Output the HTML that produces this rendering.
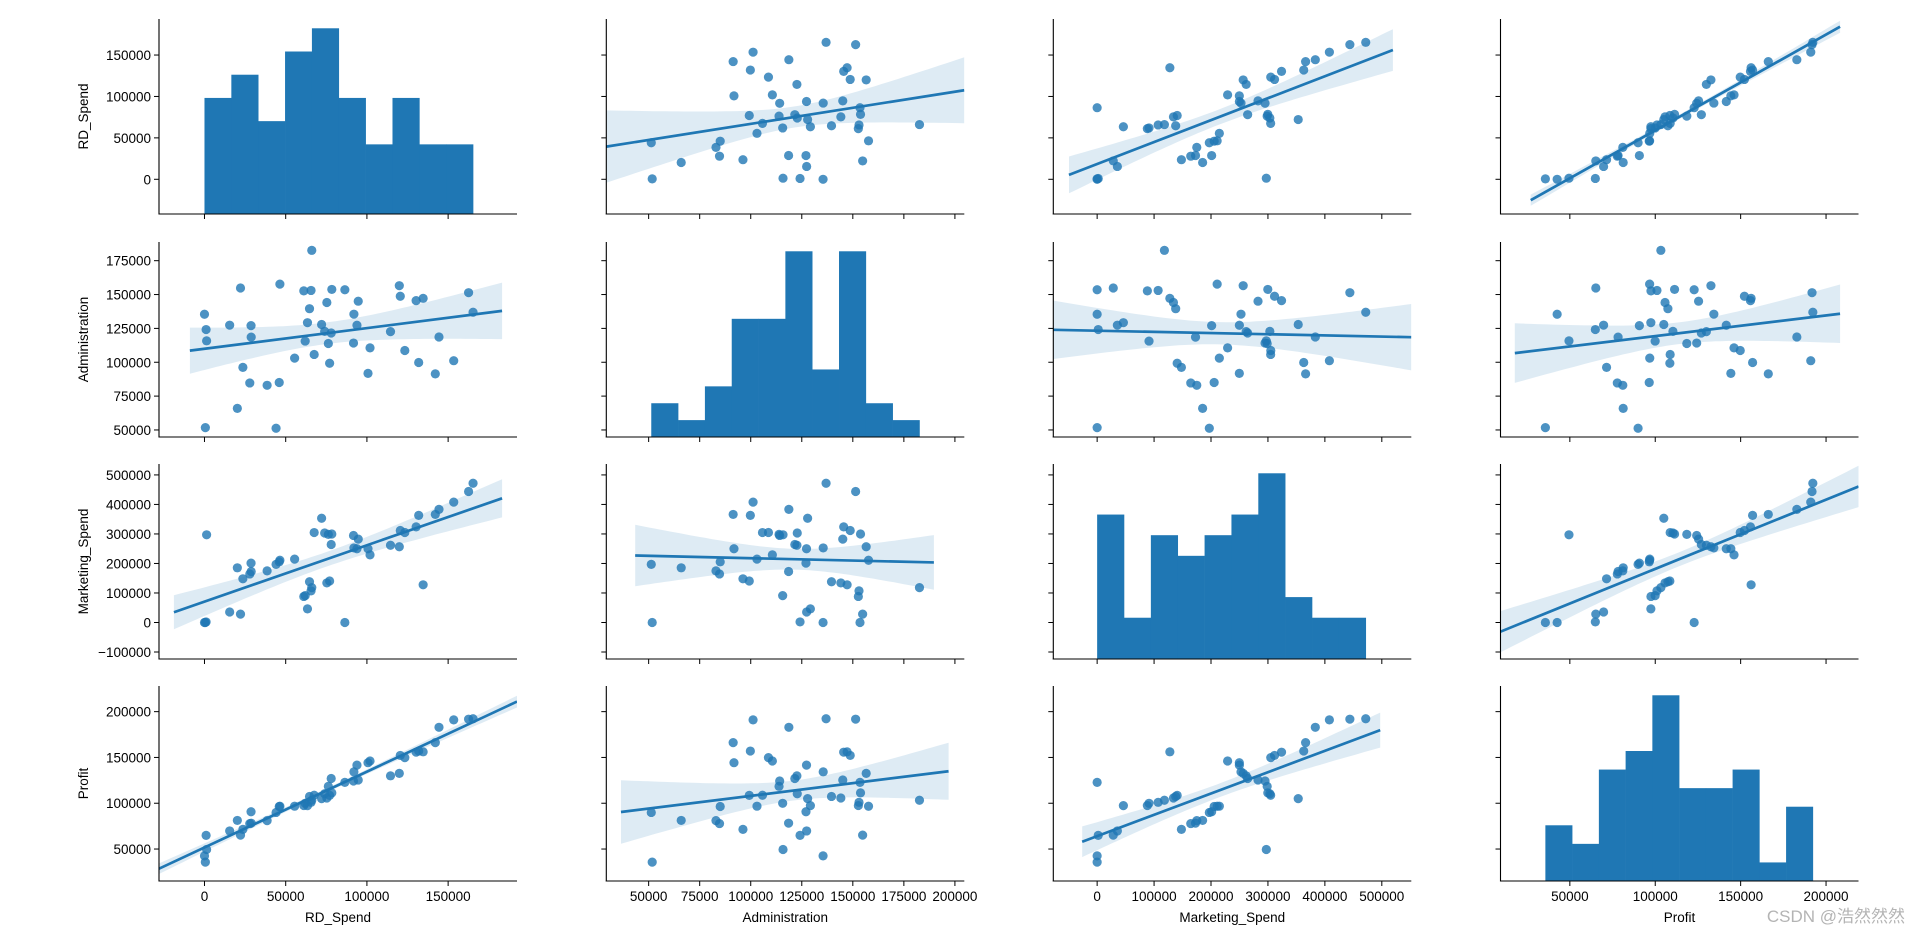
<!DOCTYPE html>
<html><head><meta charset="utf-8"><style>
html,body{margin:0;padding:0;background:#fff;}
svg{display:block;font-family:"Liberation Sans","DejaVu Sans",sans-serif;}
</style></head><body>
<svg id="chart" width="1920" height="936" viewBox="0 0 1920 936" xmlns="http://www.w3.org/2000/svg">
<text x="1905" y="922" text-anchor="end" font-size="17" fill="#b4b4b4" font-family="Liberation Sans, Noto Sans CJK SC, sans-serif">CSDN @浩然然然</text>
</svg>
<script>
const varNames = ["RD_Spend","Administration","Marketing_Spend","Profit"];
const rd = [165349.2,162597.7,153441.51,144372.41,142107.34,131876.9,134615.46,130298.13,120542.52,123334.88,101913.08,100671.96,93863.75,91992.39,119943.24,114523.61,78013.11,94657.16,91749.16,86419.7,76253.86,78389.47,73994.56,67532.53,77044.01,64664.71,75328.87,72107.6,66051.52,65605.48,61994.48,61136.38,63408.86,55493.95,46426.07,46014.02,28663.76,44069.95,20229.59,38558.51,28754.33,27892.92,23640.93,15505.73,22177.74,1000.23,1315.46,0,542.05];
const admin = [136897.8,151377.59,101145.55,118671.85,91391.77,99814.71,147198.87,145530.06,148718.95,108679.17,110594.11,91790.61,127320.38,135495.07,156547.42,122616.84,121597.55,145077.58,114175.79,153514.11,113867.3,153773.43,122782.75,105751.03,99281.34,139553.16,144135.98,127864.55,182645.56,153032.06,115641.28,152701.92,129219.61,103057.49,157693.92,85047.44,127056.21,51283.14,65947.93,82982.09,118546.05,84710.77,96189.63,127382.3,154806.14,124153.04,115816.21,135426.92,51743.15];
const mkt = [471784.1,443898.53,407934.54,383199.62,366168.42,362861.36,127716.82,323876.68,311613.29,304981.62,229160.95,249744.55,249839.44,252664.93,256512.92,261776.23,264346.06,282574.31,294919.57,0,298664.47,299737.29,303319.26,304768.73,140574.81,137962.62,134050.07,353183.81,118148.2,107138.38,91131.24,88218.23,46085.25,214634.81,210797.67,205517.64,201126.82,197029.42,185265.1,174999.3,172795.67,164470.71,148001.11,35534.17,28334.72,1903.93,297114.46,0,0];
const profit = [192261.83,191792.06,191050.39,182901.99,166187.94,156991.12,156122.51,155752.6,152211.77,149759.96,146121.95,144259.4,141585.52,134307.35,132602.65,129917.04,126992.93,125370.37,124266.9,122776.86,118474.03,111313.02,110352.25,108733.99,108552.04,107404.34,105733.54,105008.31,103282.38,101004.64,99937.59,97483.56,97427.84,96778.92,96712.8,96479.51,90708.19,89949.14,81229.06,81005.76,78239.91,77798.83,71498.49,69758.98,65200.33,64926.08,49490.75,42559.73,35673.41];
const xTicks0 = [0,50000,100000,150000];
const xTicks1 = [50000,75000,100000,125000,150000,175000,200000];
const xTicks2 = [0,100000,200000,300000,400000,500000];
const xTicks3 = [50000,100000,150000,200000];
const yTicks0 = [0,50000,100000,150000];
const yTicks1 = [50000,75000,100000,125000,150000,175000];
const yTicks2 = [-100000,0,100000,200000,300000,400000,500000];
const yTicks3 = [50000,100000,150000,200000];
const xTickSets=[xTicks0,xTicks1,xTicks2,xTicks3], yTickSets=[yTicks0,yTicks1,yTicks2,yTicks3];
const xlims=[[-28000,192400],[29260,204600],[-77000,551800],[9400,219000]];
const ylims=[[-41900,193500],[44800,188800],[-123700,537000],[15100,228000]];
const lineExt={"0,1":[29260,204600],"0,2":[-49500,519500],"0,3":[27100,208200],
"1,0":[-9000,183200],"1,2":[-77000,551800],"1,3":[17800,208200],
"2,0":[-18800,183200],"2,1":[43400,189700],"2,3":[9400,219000],
"3,0":[-28000,192400],"3,1":[36450,196900],"3,2":[-26300,497200]};
const cols=[rd,admin,mkt,profit];
const L=[159,606.3,1053.3,1500.5],W=358,T=[19,242,464,686],H=195;
const NS="http://www.w3.org/2000/svg";
const svg=document.getElementById('chart');
const C="#1f77b4";
function el(tag,attrs,parent){const e=document.createElementNS(NS,tag);for(const k in attrs)e.setAttribute(k,attrs[k]);(parent||svg).appendChild(e);return e;}
const sx=(c,v)=>L[c]+(v-xlims[c][0])/(xlims[c][1]-xlims[c][0])*W;
const sy=(r,v)=>T[r]+H-(v-ylims[r][0])/(ylims[r][1]-ylims[r][0])*H;
for(let r=0;r<4;r++)for(let c=0;c<4;c++){
  const g=el('g',{});
  
  
  const clipId='clip'+r+c;
  const cp=el('clipPath',{id:clipId},g);el('rect',{x:L[c],y:T[r],width:W,height:H},cp);
  const inner=el('g',{'clip-path':'url(#'+clipId+')'},g);
  const xs=cols[c], ys=cols[r];
  if(r===c){
    const mn=Math.min(...xs),mx=Math.max(...xs),bw=(mx-mn)/10;
    const counts=new Array(10).fill(0);
    xs.forEach(v=>{let i=Math.floor((v-mn)/bw);if(i>9)i=9;counts[i]++;});
    const cmax=Math.max(...counts)*1.05;
    counts.forEach((n,i)=>{
      const x0=sx(c,mn+i*bw),x1=sx(c,mn+(i+1)*bw),h=n/cmax*H;
      const b=el('rect',{x:x0,y:T[r]+H-h,width:x1-x0+0.3,height:h,fill:C},inner);
      
      
    });
  } else {
    const n=xs.length,xm=xs.reduce((a,b)=>a+b)/n,ym=ys.reduce((a,b)=>a+b)/n;
    let sxx=0,sxy=0;for(let i=0;i<n;i++){sxx+=(xs[i]-xm)**2;sxy+=(xs[i]-xm)*(ys[i]-ym);}
    const b1=sxy/sxx,b0=ym-b1*xm;let sse=0;for(let i=0;i<n;i++)sse+=(ys[i]-b0-b1*xs[i])**2;
    const s=Math.sqrt(sse/(n-2)),t=2.012;
    const [e0,e1]=lineExt[r+','+c];
    const up=[],lo=[];
    for(let k=0;k<=60;k++){const x=e0+(e1-e0)*k/60,yh=b0+b1*x,se=t*s*Math.sqrt(1/n+(x-xm)**2/sxx);
      up.push(sx(c,x).toFixed(1)+','+sy(r,yh+se).toFixed(1));lo.unshift(sx(c,x).toFixed(1)+','+sy(r,yh-se).toFixed(1));}
    const band=el('polygon',{points:up.concat(lo).join(' '),fill:C,'fill-opacity':0.15},inner);
    
    
    for(let i=0;i<n;i++){
      const p=el('circle',{cx:sx(c,xs[i]),cy:sy(r,ys[i]),r:4.6,fill:C,'fill-opacity':0.8},inner);
      
      
    }
    const ln=el('line',{x1:sx(c,e0),y1:sy(r,b0+b1*e0),x2:sx(c,e1),y2:sy(r,b0+b1*e1),stroke:C,'stroke-width':2.7},inner);
    
    
  }
  el('line',{x1:L[c],y1:T[r],x2:L[c],y2:T[r]+H+0.5,stroke:'#000','stroke-width':1.1},g);
  el('line',{x1:L[c]-0.5,y1:T[r]+H,x2:L[c]+W,y2:T[r]+H,stroke:'#000','stroke-width':1.1},g);
  xTickSets[c].forEach(v=>{const x=sx(c,v);el('line',{x1:x,y1:T[r]+H,x2:x,y2:T[r]+H+5,stroke:'#000','stroke-width':1},g);
    if(r===3){const tx=el('text',{x:x,y:T[r]+H+20,'text-anchor':'middle','font-size':13.5,fill:'#000'},g);tx.textContent=String(v);
      
      }});
  yTickSets[r].forEach(v=>{const y=sy(r,v);el('line',{x1:L[c]-5,y1:y,x2:L[c],y2:y,stroke:'#000','stroke-width':1},g);
    if(c===0){const tx=el('text',{x:L[c]-8,y:y+5,'text-anchor':'end','font-size':13.5,fill:'#000'},g);tx.textContent=(v<0?'\u2212':'')+Math.abs(v);
      
      }});
}
for(let i=0;i<4;i++){
  const xl=el('text',{x:L[i]+W/2,y:922,'text-anchor':'middle','font-size':13.5,fill:'#000'});xl.textContent=varNames[i];
  
  
  const cy=T[i]+H/2;
  const yl=el('text',{x:88,y:cy,'text-anchor':'middle','font-size':13.5,fill:'#000',transform:'rotate(-90 88 '+cy+')'});yl.textContent=varNames[i];
  
  
}
</script>
</body></html>
